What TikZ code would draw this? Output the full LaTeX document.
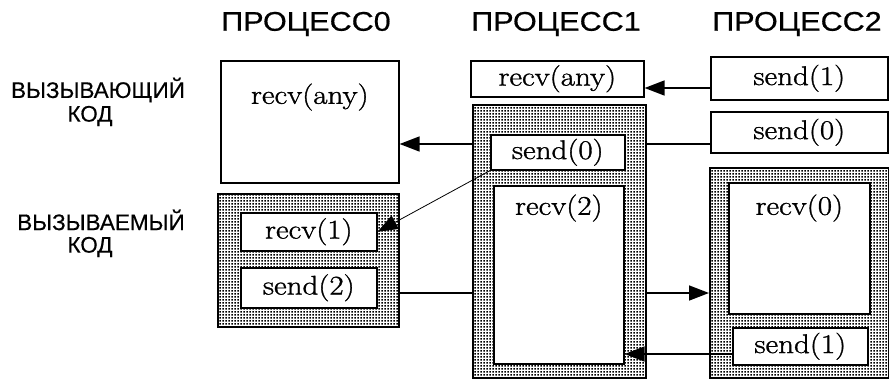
\documentclass[tikz,border=0pt]{standalone}
\usepackage{fontspec}
\newfontfamily\hdrfont[FakeStretch=1.13,FakeBold=0.6]{Liberation Sans}
\newfontfamily\lblfont[FakeBold=0.4]{Liberation Sans}
\newfontfamily\codefont[FakeStretch=1.15,FakeBold=1.2]{Latin Modern Roman}
\usetikzlibrary{arrows.meta,patterns,backgrounds}

% fine square-dot screen used for the shaded (callee) regions
\pgfdeclarepatternformonly{finedots}{\pgfqpoint{0pt}{0pt}}{\pgfqpoint{3pt}{3pt}}{\pgfqpoint{3pt}{3pt}}%
  {\pgfpathrectangle{\pgfqpoint{0.6pt}{0.6pt}}{\pgfqpoint{1.8pt}{1.8pt}}\pgfusepath{fill}}

\tikzset{
  codebox/.style={draw, line width=1.6pt, fill=white, inner sep=0pt, anchor=north west,
                  font=\codefont\fontsize{27}{30}\selectfont},
  screen/.style={draw, line width=1.6pt, preaction={fill=white}, pattern=finedots,
                 inner sep=0pt, anchor=north west},
  header/.style={font=\hdrfont\fontsize{27}{30}\selectfont, inner sep=0pt},
  rowlabel/.style={font=\lblfont\fontsize{22.5}{26}\selectfont, inner sep=0pt},
  msg/.style={line width=1.6pt, -{Triangle[length=20pt,width=15pt]}},
  thinmsg/.style={line width=0.8pt, -{Triangle[length=20pt,width=15pt]}},
}

\begin{document}
\begin{tikzpicture}[x=1pt, y=-1pt]
\useasboundingbox (0,0) rectangle (889,378);

% column headers
\node[header] (h0) at (306,24) {ПРОЦЕСС0};
\node[header] (h1) at (556,24) {ПРОЦЕСС1};
\node[header] (h2) at (797,24) {ПРОЦЕСС2};

% row labels
\node[rowlabel] (callerA) at (98,90) {ВЫЗЫВАЮЩИЙ};
\node[rowlabel] (callerB) at (90,116) {КОД};
\node[rowlabel] (calleeA) at (101,220) {ВЫЗЫВАЕМЫЙ};
\node[rowlabel] (calleeB) at (90,247) {КОД};

% process 0
\node[codebox, minimum width=178pt, text height=43pt, text depth=79pt] (p0any) at (220,60) {recv(any)};
\node[screen, minimum width=181pt, minimum height=133pt] (p0lib) at (217,193) {};
\node[codebox, minimum width=136pt, minimum height=38pt] (p0recv) at (240,212) {recv(1)};
\node[codebox, minimum width=136pt, minimum height=40pt] (p0send) at (240,267) {send(2)};

% process 1
\node[codebox, minimum width=173pt, minimum height=36pt] (p1any) at (470,60) {recv(any)};
\node[screen, minimum width=173pt, minimum height=273pt] (p1lib) at (472,104) {};
\node[codebox, minimum width=134pt, minimum height=35pt] (p1send) at (490,134) {send(0)};
\node[codebox, minimum width=130pt, text height=29pt, text depth=149pt] (p1recv) at (493,185) {recv(2)};

% process 2
\node[codebox, minimum width=177pt, minimum height=43pt] (p2sendA) at (710,56) {send(1)};
\node[codebox, minimum width=177pt, minimum height=41pt] (p2sendB) at (710,111) {send(0)};
\node[screen, minimum width=179pt, minimum height=210pt] (p2lib) at (709,167) {};
\node[codebox, minimum width=141pt, text height=32pt, text depth=99pt] (p2recv) at (728,182) {recv(0)};
\node[codebox, minimum width=135pt, minimum height=37pt] (p2sendC) at (732,327) {send(1)};

% messages that pass behind the shaded region of process 1
\begin{pgfonlayer}{background}
  \draw[msg] (p2sendB.west |- 0,144) -- (p0any.east |- 0,144);
  \draw[msg] (p0send.east |- 0,293) -- (p2lib.west |- 0,293);
\end{pgfonlayer}

% remaining messages
\draw[msg] (p2sendA.west |- 0,88) -- (p1any.east |- 0,88);
\draw[msg] (p2sendC.west |- 0,354) -- (p1recv.east |- 0,354);
\draw[thinmsg] (p1send.south west) -- (p0recv.east);
\end{tikzpicture}
\end{document}
